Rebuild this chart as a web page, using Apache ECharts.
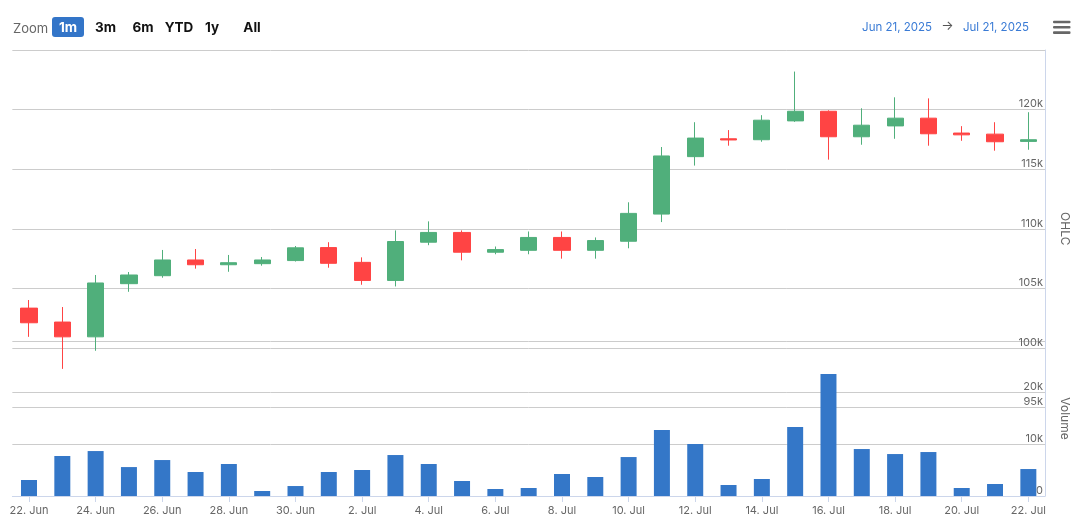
<!DOCTYPE html>
<html>
<head>
<meta charset="utf-8">
<style>
  html, body { margin: 0; padding: 0; background: #ffffff; }
  #chart { width: 1080px; height: 521px; }
</style>
<script src="https://cdn.jsdelivr.net/npm/echarts@6/dist/echarts.min.js"></script>
</head>
<body>
<div id="chart"></div>
<script>
// ---- data ----
const dates = ['2025-06-22','2025-06-23','2025-06-24','2025-06-25','2025-06-26','2025-06-27','2025-06-28','2025-06-29','2025-06-30',
  '2025-07-01','2025-07-02','2025-07-03','2025-07-04','2025-07-05','2025-07-06','2025-07-07','2025-07-08','2025-07-09','2025-07-10',
  '2025-07-11','2025-07-12','2025-07-13','2025-07-14','2025-07-15','2025-07-16','2025-07-17','2025-07-18','2025-07-19','2025-07-20',
  '2025-07-21','2025-07-22'];
const openP  = [103340,102170,100930,105390,106060,107380,106980,107070,107330,108420,107180,105660,108870,109690,108030,108190,109270,108190,108950,111230,116050,117550,117470,119050,119860,117720,118630,119280,118030,117940,117330];
const closeP = [102110,100930,105450,106120,107380,106980,107150,107380,108400,107100,105660,108930,109690,108030,108250,109270,108190,109010,111290,116110,117610,117450,119110,119860,117720,118690,119280,117970,117880,117300,117470];
const lowP   = [100930, 98240, 99760,104710,105890,106650,106390,106900,107250,106730,105300,105160,108620,107350,107860,107860,107490,107490,108360,110560,115300,116970,117300,118970,115800,117050,117550,116970,117380,116550,116630];
const highP  = [104020,103430,106120,106370,108220,108300,107800,107630,108550,108870,107600,109860,110620,109860,108510,109770,109770,109270,112220,116860,118940,118280,119530,123190,119940,120110,121030,120940,118610,118940,119780];
const volume = [3100,7740,8700,5600,6960,4640,6190,970,1930,4640,5030,7930,6190,2900,1350,1550,4260,3680,7540,12770,10060,2130,3290,13350,23600,9090,8120,8510,1550,2320,5220];
const zoomButtons = ['1m','3m','6m','YTD','1y','All'];
const rangeFrom = 'Jun 21, 2025';
const rangeTo = 'Jul 21, 2025';

const monthNames = ['Jan','Feb','Mar','Apr','May','Jun','Jul','Aug','Sep','Oct','Nov','Dec'];
const fmtDate = s => { const p = s.split('-'); return parseInt(p[2],10) + '. ' + monthNames[parseInt(p[1],10)-1]; };

const ohlc = dates.map((d, i) => [openP[i], closeP[i], lowP[i], highP[i]]);

const FONT = 'Inter, "Open Sans", sans-serif';
const UP = '#50AF7B', DOWN = '#FF4444', VOL = '#3477C8';
const GRID = '#cccccc', AXIS = '#ccd6eb', LABEL = '#666666';

const chart = echarts.init(document.getElementById('chart'), null, { renderer: 'canvas' });

const btnX = [68, 105.5, 143, 179, 212, 252];
const graphics = [
  { type: 'text', x: 13, y: 29, style: { text: 'Zoom', fill: '#666666', font: '13px ' + FONT, verticalAlign: 'middle' } },
  { type: 'rect', shape: { x: 52, y: 17, width: 32, height: 20, r: 3 }, style: { fill: '#3375C8' } }
];
zoomButtons.forEach((b, i) => {
  graphics.push({ type: 'text', x: btnX[i], y: 27.5,
    style: { text: b, fill: i === 0 ? '#ffffff' : '#111111', font: 'bold 13.5px ' + FONT, align: 'center', verticalAlign: 'middle' } });
});
graphics.push({ type: 'text', x: 932, y: 27.5, style: { text: rangeFrom, fill: '#3A7BD5', font: '11.5px ' + FONT, align: 'right', verticalAlign: 'middle' } });
graphics.push({ type: 'text', x: 947.5, y: 26.5, style: { text: '→', fill: '#555555', font: '13px ' + FONT, align: 'center', verticalAlign: 'middle' } });
graphics.push({ type: 'text', x: 963, y: 27.5, style: { text: rangeTo, fill: '#3A7BD5', font: '11.5px ' + FONT, verticalAlign: 'middle' } });
[22, 27.3, 32.6].forEach(y => {
  graphics.push({ type: 'rect', shape: { x: 1053, y: y - 1.3, width: 17.5, height: 2.6, r: 1 }, style: { fill: '#666666' } });
});

const yLabel = {
  inside: true, margin: 2, color: LABEL, fontSize: 11, fontFamily: FONT,
  verticalAlign: 'bottom', showMaxLabel: false,
  formatter: v => (v === 0 ? '0' : (v / 1000) + 'k')
};

chart.setOption({
  animation: false,
  backgroundColor: '#ffffff',
  textStyle: { fontFamily: FONT },
  graphic: graphics,
  grid: [
    { left: 12.35, right: 35, top: 50, height: 357.5 },
    { left: 12.35, right: 35, top: 341, height: 155 }
  ],
  xAxis: [
    { type: 'category', gridIndex: 0, data: dates, boundaryGap: true, show: false },
    { type: 'category', gridIndex: 1, data: dates, boundaryGap: true,
      axisLine: { show: true, lineStyle: { color: AXIS, width: 1 } },
      axisTick: { show: true, interval: 1, alignWithLabel: true, length: 6, lineStyle: { color: AXIS } },
      axisLabel: { interval: 1, color: LABEL, fontSize: 11, fontFamily: FONT, margin: 9, formatter: fmtDate },
      splitLine: { show: false } }
  ],
  yAxis: [
    { type: 'value', gridIndex: 0, position: 'right', min: 95000, max: 125000, interval: 5000,
      name: 'OHLC', nameLocation: 'middle', nameGap: 14, nameRotate: -90,
      nameTextStyle: { color: LABEL, fontSize: 12, fontFamily: FONT },
      axisLine: { show: true, lineStyle: { color: AXIS } }, axisTick: { show: false },
      axisLabel: yLabel,
      splitLine: { show: true, lineStyle: { color: GRID, width: 1 } } },
    { type: 'value', gridIndex: 1, position: 'right', min: 0, max: 30000, interval: 10000,
      name: 'Volume', nameLocation: 'middle', nameGap: 14, nameRotate: -90,
      nameTextStyle: { color: LABEL, fontSize: 12, fontFamily: FONT },
      axisLine: { show: true, lineStyle: { color: AXIS } }, axisTick: { show: false },
      axisLabel: yLabel,
      splitLine: { show: true, lineStyle: { color: GRID, width: 1 } } }
  ],
  series: [
    { type: 'candlestick', name: 'OHLC', xAxisIndex: 0, yAxisIndex: 0, data: ohlc, barWidth: '50%',
      itemStyle: { color: UP, color0: DOWN, borderColor: UP, borderColor0: DOWN, borderWidth: 1 } },
    { type: 'bar', name: 'Volume', xAxisIndex: 1, yAxisIndex: 1, data: volume, barWidth: '48%',
      itemStyle: { color: VOL } }
  ]
});
</script>
</body>
</html>
